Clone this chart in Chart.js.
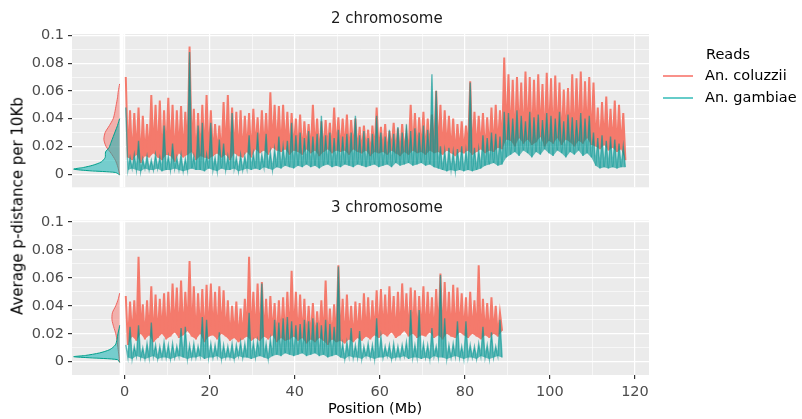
<!DOCTYPE html>
<html>
<head>
<meta charset="utf-8">
<script src="https://cdn.jsdelivr.net/npm/chart.js@4.4.1/dist/chart.umd.min.js"></script>
<style>
  body { margin: 0; background: #fff; font-family: "DejaVu Sans", sans-serif; }
  #wrap { position: relative; width: 802px; height: 419px; overflow: hidden; }
  canvas { position: absolute; left: 0; }
  .lbl { position: absolute; color: #000; font-size: 14.5px; line-height: 17px; white-space: nowrap; }
  .key { position: absolute; width: 30px; height: 2px; }
</style>
</head>
<body>
<div id="wrap">
  <canvas id="chr2" width="802" height="200" style="top:0px"></canvas>
  <canvas id="chr3" width="802" height="219" style="top:200px"></canvas>
  <div class="lbl" id="ytitle" style="left:18px; top:206px; font-size:15px; transform:translate(-50%,-50%) rotate(-90deg);">Average p-distance per 10Kb</div>
  <div class="lbl" id="xtitle" style="left:375px; top:408px; transform:translate(-50%,-50%);">Position (Mb)</div>
  <div class="lbl" style="left:706px; top:46px;">Reads</div>
  <div class="key" style="left:663px; top:75px; background:rgba(248,118,109,0.8);"></div>
  <div class="lbl" style="left:705px; top:67px;">An. coluzzii</div>
  <div class="key" style="left:663px; top:97px; background:rgba(0,170,165,0.6);"></div>
  <div class="lbl" style="left:705px; top:89px;">An. gambiae</div>
</div>
<script>
// axis ticks
const xTicks = [0, 20, 40, 60, 80, 100, 120];
const xMinor = [10, 30, 50, 70, 90, 110];
const yTicks = [0, 0.02, 0.04, 0.06, 0.08, 0.1];
const yMinor = [0.01, 0.03, 0.05, 0.07, 0.09];
const yTickLabels = ['0', '0.02', '0.04', '0.06', '0.08', '0.1'];

// chromosome 2, per Mb window: upper / lower envelope of the 10Kb p-distance
const chr2ColHi = [
  .070, .046, .044, .048, .042, .036, .057, .050, .053, .046,
  .055, .050, .046, .049, .045, .092, .047, .044, .050, .057,
  .046, .036, .035, .052, .057, .048, .045, .046, .042, .044,
  .047, .041, .046, .044, .059, .050, .049, .050, .045, .044,
  .040, .043, .038, .036, .050, .040, .038, .039, .037, .048,
  .041, .040, .043, .039, .040, .034, .035, .032, .035, .048,
  .034, .036, .031, .037, .033, .036, .030, .050, .044, .041,
  .045, .040, .043, .060, .050, .046, .042, .040, .036, .038,
  .035, .067, .045, .042, .044, .041, .048, .050, .046, .084,
  .072, .068, .070, .066, .074, .070, .068, .072, .065, .073,
  .069, .071, .066, .061, .062, .072, .069, .074, .067, .070,
  .066, .048, .052, .056, .047, .053, .050, .044];
const chr2ColLo = [
  .012, .010, .014, .008, .013, .012, .015, .012, .010, .014,
  .013, .009, .015, .012, .014, .016, .010, .013, .012, .011,
  .013, .015, .012, .014, .010, .015, .013, .012, .016, .012,
  .018, .015, .017, .014, .019, .017, .016, .018, .014, .017,
  .016, .014, .018, .015, .017, .013, .016, .018, .015, .017,
  .016, .017, .014, .018, .016, .015, .017, .013, .016, .015,
  .016, .014, .017, .015, .013, .016, .014, .017, .015, .016,
  .014, .017, .015, .016, .014, .017, .015, .013, .016, .015,
  .017, .014, .016, .018, .015, .017, .016, .019, .018, .025,
  .024, .020, .026, .022, .025, .021, .023, .027, .020, .024,
  .022, .026, .021, .025, .023, .020, .024, .022, .026, .021,
  .020, .018, .021, .017, .019, .016, .018, .010];
const chr2GamHi = [
  .048, .012, .014, .024, .011, .013, .010, .014, .012, .035,
  .013, .022, .012, .014, .011, .088, .013, .035, .037, .014,
  .037, .012, .025, .022, .013, .044, .012, .014, .013, .028,
  .015, .030, .014, .029, .016, .018, .027, .020, .024, .037,
  .028, .030, .026, .031, .027, .029, .042, .028, .030, .026,
  .032, .027, .029, .030, .042, .028, .031, .026, .029, .042,
  .030, .027, .032, .029, .034, .030, .036, .031, .033, .030,
  .035, .032, .072, .060, .020, .017, .019, .016, .018, .020,
  .017, .066, .019, .018, .028, .026, .030, .029, .027, .045,
  .044, .040, .046, .042, .038, .045, .041, .043, .039, .044,
  .042, .040, .045, .038, .043, .041, .039, .044, .040, .042,
  .030, .026, .028, .024, .027, .025, .022, .020];
const chr2GamLo = [
  .003, .004, .003, .002, .004, .003, .003, .004, .002, .003,
  .003, .004, .003, .002, .003, .004, .003, .003, .002, .004,
  .003, .002, .004, .003, .003, .004, .002, .003, .004, .003,
  .004, .003, .005, .004, .003, .005, .004, .006, .005, .004,
  .006, .005, .007, .005, .006, .004, .006, .007, .005, .006,
  .005, .007, .006, .005, .007, .006, .005, .006, .007, .005,
  .006, .007, .005, .008, .006, .007, .008, .006, .007, .008,
  .006, .007, .005, .004, .003, .002, .003, .002, .003, .002,
  .003, .002, .003, .004, .006, .007, .008, .006, .007, .012,
  .014, .016, .013, .017, .015, .012, .016, .014, .018, .015,
  .013, .017, .015, .012, .016, .014, .017, .013, .015, .012,
  .006, .004, .005, .004, .005, .004, .005, .005];

// chromosome 3
const chr3ColHi = [
  .047, .043, .044, .075, .041, .044, .054, .048, .045, .049,
  .050, .056, .053, .058, .050, .072, .054, .049, .052, .055,
  .056, .050, .054, .051, .044, .040, .043, .038, .045, .075,
  .050, .056, .057, .045, .047, .042, .044, .046, .050, .065,
  .050, .048, .045, .040, .042, .036, .044, .058, .038, .041,
  .069, .045, .048, .040, .043, .042, .049, .046, .044, .051,
  .052, .048, .054, .047, .050, .056, .049, .053, .051, .047,
  .054, .050, .046, .052, .063, .057, .050, .055, .053, .049,
  .046, .050, .044, .069, .045, .042, .046, .040, .035];
const chr3ColLo = [
  .012, .018, .015, .020, .016, .019, .014, .017, .020, .016,
  .018, .021, .017, .019, .022, .018, .016, .020, .014, .018,
  .019, .016, .020, .018, .015, .017, .014, .016, .018, .015,
  .017, .015, .018, .016, .019, .014, .017, .015, .016, .018,
  .015, .017, .013, .016, .014, .017, .015, .012, .016, .014,
  .015, .013, .016, .014, .017, .015, .018, .016, .019, .017,
  .020, .018, .021, .017, .019, .022, .018, .020, .017, .019,
  .018, .021, .017, .019, .016, .020, .018, .017, .021, .019,
  .017, .020, .018, .016, .019, .017, .020, .018, .022];
const chr3GamHi = [
  .012, .025, .011, .026, .010, .013, .028, .012, .011, .014,
  .012, .013, .011, .024, .025, .012, .013, .011, .032, .030,
  .013, .012, .021, .012, .011, .013, .012, .014, .013, .035,
  .014, .015, .056, .013, .016, .030, .028, .031, .032, .029,
  .026, .027, .030, .029, .031, .028, .026, .030, .027, .025,
  .068, .013, .014, .024, .012, .022, .011, .013, .012, .031,
  .018, .011, .012, .013, .011, .012, .014, .037, .012, .037,
  .013, .012, .024, .011, .062, .031, .012, .013, .029, .011,
  .029, .012, .011, .013, .025, .012, .021, .011, .030];
const chr3GamLo = [
  .003, .002, .004, .003, .002, .003, .004, .002, .003, .003,
  .002, .003, .004, .003, .002, .003, .003, .004, .002, .003,
  .003, .004, .002, .003, .003, .002, .004, .003, .003, .002,
  .003, .004, .003, .002, .004, .005, .004, .006, .005, .004,
  .005, .006, .004, .005, .006, .004, .005, .003, .004, .005,
  .003, .002, .004, .003, .003, .002, .004, .003, .002, .003,
  .003, .004, .002, .003, .003, .004, .002, .003, .003, .002,
  .003, .002, .004, .003, .003, .002, .003, .004, .003, .002,
  .003, .003, .002, .004, .003, .002, .003, .004, .003];

// side densities: p-distance level and density width (in Mb units of the side panel)
const dens2ColY = [-0.0005, 0.005, 0.01, 0.015, 0.02, 0.025, 0.03, 0.035, 0.04, 0.045, 0.05, 0.055, 0.06, 0.065];
const dens2ColW = [0, 0.4, 1.0, 2.0, 3.2, 3.7, 3.4, 2.4, 1.5, 1.1, 0.8, 0.5, 0.3, 0];
const dens2GamY = [-0.0005, 0.0012, 0.0024, 0.0036, 0.0048, 0.0064, 0.0088, 0.012, 0.016, 0.019, 0.023, 0.027, 0.031, 0.035, 0.038, 0.04];
const dens2GamW = [0, 1.0, 7, 10.8, 8.5, 6.3, 4.3, 3.4, 3.3, 2.5, 2.0, 1.5, 1.0, 0.5, 0.2, 0];
const dens3ColY = [-0.0005, 0.005, 0.01, 0.015, 0.02, 0.025, 0.03, 0.035, 0.04, 0.045, 0.049];
const dens3ColW = [0, 0.2, 0.4, 0.6, 0.9, 1.4, 1.8, 1.7, 0.9, 0.3, 0];
const dens3GamY = [-0.0005, 0.0015, 0.0028, 0.0036, 0.0045, 0.0063, 0.0087, 0.012, 0.016, 0.02, 0.024, 0.026];
const dens3GamW = [0, 0.5, 7, 10.8, 8, 4.7, 2.3, 1.0, 0.6, 0.4, 0.1, 0];

const X_MIN = -12.4, X_MAX = 123.3;
const Y_MIN = -0.0095, Y_MAX = 0.101;
const GAP_FROM = -1.2, GAP_TO = -0.25;

const RED = 'rgb(244,122,108)';
const TEAL = 'rgba(0,150,146,0.6)';

Chart.defaults.font.family = '"DejaVu Sans"';
Chart.defaults.font.size = 14.5;

function zigzag(hi, lo) {
  const pts = [];
  hi.forEach(function (h, i) {
    pts.push({x: i + 0.25, y: h});
    pts.push({x: i + 0.75, y: lo[i]});
  });
  return pts;
}
function lowLine(lo) {
  return lo.map(function (v, i) { return {x: i + 0.75, y: v}; });
}
function density(ys, ws) {
  return ys.map(function (y, i) { return {x: GAP_FROM - ws[i], y: y}; });
}
const isIn = (arr, v) => arr.some(a => Math.abs(a - v) < 1e-9);

const panelPlugin = {
  id: 'panel',
  beforeDraw(chart) {
    const {ctx, chartArea: a} = chart;
    ctx.save();
    ctx.fillStyle = '#EBEBEB';
    ctx.fillRect(a.left, a.top, a.right - a.left, a.bottom - a.top);
    ctx.restore();
  },
  beforeDatasetsDraw(chart) {
    const {ctx, chartArea: a} = chart;
    const x = chart.scales.x;
    const l = x.getPixelForValue(GAP_FROM), r = x.getPixelForValue(GAP_TO);
    ctx.save();
    ctx.fillStyle = '#fff';
    ctx.fillRect(l, a.top, r - l, a.bottom - a.top);
    ctx.restore();
  },
  afterDraw(chart, args, opts) {
    const {ctx, chartArea: a} = chart;
    const cx = (chart.scales.x.getPixelForValue(0) + a.right) / 2;
    ctx.save();
    ctx.font = '15px "DejaVu Sans"';
    ctx.fillStyle = '#1a1a1a';
    ctx.textAlign = 'center';
    ctx.textBaseline = 'middle';
    ctx.fillText(opts.text, cx, opts.y);
    ctx.restore();
  }
};

function makeChart(id, d, cfg) {
  const datasets = [
    {label: 'An. coluzzii', data: zigzag(d.colHi, d.colLo), borderColor: RED, backgroundColor: RED,
     borderWidth: 2, borderJoinStyle: 'miter', fill: '+1', order: 3},
    {label: 'col low', data: lowLine(d.colLo), borderWidth: 0, borderColor: 'transparent', fill: false, order: 3},
    {label: 'An. gambiae', data: zigzag(d.gamHi, d.gamLo), borderColor: TEAL, backgroundColor: TEAL,
     borderWidth: 1.4, fill: '+1', order: 1},
    {label: 'gam low', data: lowLine(d.gamLo), borderWidth: 0, borderColor: 'transparent', fill: false, order: 1},
    {label: 'col density', data: density(d.dColY, d.dColW), borderColor: 'rgb(240,100,95)',
     backgroundColor: 'rgba(248,118,109,0.5)', borderWidth: 1, fill: 'shape', tension: 0.25, order: 6},
    {label: 'gam density', data: density(d.dGamY, d.dGamW), borderColor: 'rgb(0,160,140)',
     backgroundColor: 'rgba(0,175,175,0.5)', borderWidth: 1, fill: 'shape', tension: 0.25, order: 5}
  ];
  return new Chart(document.getElementById(id), {
    type: 'line',
    data: {datasets: datasets},
    plugins: [panelPlugin],
    options: {
      responsive: false,
      animation: false,
      events: [],
      layout: {padding: {left: 0, right: 153, top: cfg.top, bottom: 0}},
      elements: {point: {radius: 0}, line: {tension: 0}},
      plugins: {
        legend: {display: false},
        tooltip: {enabled: false},
        panel: {text: cfg.title, y: cfg.stripY}
      },
      scales: {
        x: {
          type: 'linear', min: X_MIN, max: X_MAX, bounds: 'data',
          afterBuildTicks: s => { s.ticks = xTicks.concat(xMinor).sort((a, b) => a - b).map(v => ({value: v})); },
          afterFit: s => { s.height = cfg.xHeight; },
          border: {display: false},
          grid: {
            color: c => (c.tick && c.tick.value >= 0) ? '#ffffff' : 'transparent',
            lineWidth: c => (c.tick && isIn(xMinor, c.tick.value)) ? 0.6 : 1.2,
            tickColor: c => (c.tick && isIn(xTicks, c.tick.value)) ? '#333333' : 'transparent',
            tickLength: 4,
            drawTicks: cfg.showX
          },
          ticks: {
            display: cfg.showX, autoSkip: false, maxRotation: 0, padding: 5, color: '#4d4d4d',
            callback: v => isIn(xTicks, v) ? String(v) : ''
          }
        },
        y: {
          type: 'linear', min: Y_MIN, max: Y_MAX, bounds: 'data',
          afterBuildTicks: s => { s.ticks = yTicks.concat(yMinor).sort((a, b) => a - b).map(v => ({value: v})); },
          afterFit: s => { s.width = 72; },
          border: {display: false},
          grid: {
            color: '#ffffff',
            lineWidth: c => (c.tick && isIn(yMinor, c.tick.value)) ? 0.6 : 1.2,
            tickColor: c => (c.tick && isIn(yTicks, c.tick.value)) ? '#333333' : 'transparent',
            tickLength: 4
          },
          ticks: {
            autoSkip: false, padding: 4, color: '#4d4d4d',
            callback: v => {
              const k = yTicks.findIndex(t => Math.abs(t - v) < 1e-9);
              return k >= 0 ? yTickLabels[k] : '';
            }
          }
        }
      }
    }
  });
}

makeChart('chr2', {
  colHi: chr2ColHi, colLo: chr2ColLo, gamHi: chr2GamHi, gamLo: chr2GamLo,
  dColY: dens2ColY, dColW: dens2ColW, dGamY: dens2GamY, dGamW: dens2GamW
}, {title: '2 chromosome', stripY: 19, top: 34, xHeight: 11, showX: false});

makeChart('chr3', {
  colHi: chr3ColHi, colLo: chr3ColLo, gamHi: chr3GamHi, gamLo: chr3GamLo,
  dColY: dens3ColY, dColW: dens3ColW, dGamY: dens3GamY, dGamW: dens3GamW
}, {title: '3 chromosome', stripY: 8, top: 20.5, xHeight: 44, showX: true});
</script>
</body>
</html>
